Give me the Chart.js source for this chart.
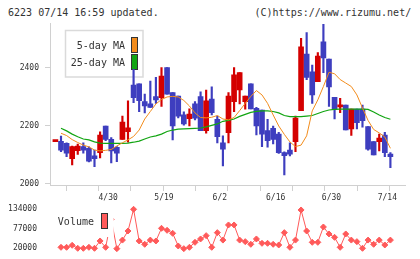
<!DOCTYPE html>
<html>
<head>
<meta charset="utf-8">
<script src="https://cdn.jsdelivr.net/npm/chart.js@4.4.1/dist/chart.umd.min.js"></script>
<style>
body{margin:0;background:#fff;width:420px;height:259px;overflow:hidden;position:relative;font-family:'DejaVu Sans Mono',monospace;}
#top{position:absolute;left:0;top:0;width:420px;height:205px}
#vol{position:absolute;left:0;top:195px;width:420px;height:64px}
.hd{position:absolute;top:7px;font-size:11px;line-height:12px;color:#333;white-space:nowrap}
</style>
</head>
<body>
<div class="hd" style="left:8px;transform:scaleX(0.91);transform-origin:left">6223 07/14 16:59 updated.</div>
<div class="hd" style="right:9px;transform:scaleX(0.91);transform-origin:right">(C)https://www.rizumu.net/</div>
<div id="top"><canvas id="priceChart"></canvas></div>
<div id="vol"><canvas id="volChart"></canvas></div>
<script>
// daily candles, first one is the partial doji at the left edge
const opens  = [2146,2147,2140,2087,2115,2129,2123,2097,2108,2200,2154,2126,2154,2180,2341,2345,2284,2276,2301,2298,2401,
                2315,2303,2238,2225,2276,2301,2184,2293,2223,2142,2177,2284,2324,2284,2345,2261,2255,2184,2192,2172,
                2108,2117,2146,2253,2448,2387,2353,2490,2431,2299,2266,2272,2190,2258,2258,2198,2146,2146,2169,2103];
const highs  = [2148,2165,2142,2131,2138,2142,2128,2117,2180,2200,2160,2129,2234,2287,2395,2345,2310,2355,2368,2401,2401,
                2315,2303,2249,2259,2284,2318,2324,2335,2234,2166,2315,2401,2384,2303,2345,2264,2255,2223,2200,2178,
                2111,2142,2234,2502,2522,2410,2453,2550,2431,2299,2295,2272,2258,2258,2272,2198,2146,2172,2178,2108];
const lows   = [2146,2111,2094,2066,2102,2106,2076,2060,2090,2149,2073,2077,2154,2144,2280,2249,2245,2264,2278,2267,2310,
                2152,2228,2203,2200,2221,2184,2175,2238,2142,2062,2142,2249,2276,2258,2259,2169,2129,2127,2138,2105,
                2031,2097,2111,2253,2360,2278,2353,2384,2267,2224,2246,2186,2167,2190,2196,2117,2100,2114,2094,2056];
const closes = [2148,2117,2106,2129,2131,2117,2079,2087,2169,2154,2114,2106,2213,2194,2298,2287,2269,2264,2290,2372,2310,
                2200,2234,2207,2241,2227,2184,2287,2246,2163,2120,2303,2376,2384,2303,2259,2200,2172,2149,2154,2108,
                2098,2103,2227,2473,2367,2307,2441,2435,2335,2258,2270,2186,2258,2211,2218,2120,2100,2158,2108,2094];
const ma5    = [null,2175,2167,2153,2143,2134,2128,2117,2114,2116,2119,2131,2142,2152,2164,2186,2224,2250,2276,2291,2300,
                2302,2300,2288,2269,2245,2229,2228,2230,2236,2224,2221,2229,2253,2278,2302,2322,2307,2278,2238,2200,
                2171,2145,2129,2134,2166,2252,2290,2336,2385,2380,2360,2348,2336,2307,2262,2219,2188,2176,2162,2123];
const ma25   = [null,2192,2183,2172,2163,2155,2152,2145,2141,2140,2140,2140,2140,2141,2144,2148,2155,2162,2166,2172,2181,
                2186,2189,2190,2191,2192,2193,2197,2202,2207,2216,2219,2224,2233,2240,2247,2250,2252,2252,2250,2245,
                2236,2232,2232,2232,2234,2236,2243,2250,2255,2257,2258,2258,2258,2258,2258,2257,2248,2238,2229,2223];
const volumes = [null,22900,22900,28800,20000,20000,22900,20000,41400,22900,105000,19000,44000,70600,134000,41400,31700,44000,41400,78400,72600,
                 63800,26800,19000,22900,37500,47300,57000,22900,65800,44000,88200,88200,44000,39500,31700,47300,34600,34600,31700,29700,
                 65800,22900,44000,132000,70600,37500,37500,82300,61900,52000,22900,61900,44000,39500,20000,44000,31700,44000,29700,44000];
const dateLabels = ['4/30','5/19','6/2','6/16','6/30','7/14'];
const dateIdx = [10,20,30,40,50,60];
const priceTicks = [2000,2200,2400];
const volTicks = [20000,77000,134000];

const RED = '#d40000', BLUE = '#3e3ebf', ORANGE = '#f28c1c', GREEN = '#12a512', VOLC = '#ff5a5a';
const AXIS = '#d0d0d0', TXT = '#333';
const xMin = -0.97, xMax = 62.74;

Chart.defaults.font.family = "'DejaVu Sans Mono', monospace";
Chart.defaults.animation = false;

const up = i => closes[i] >= opens[i];
const candleColor = c => up(c.dataIndex) ? RED : BLUE;

function label(c, t, x, y) {
    c.save();
    c.translate(x, y);
    c.scale(0.91, 1);
    c.font = "11px 'DejaVu Sans Mono'";
    c.fillStyle = TXT;
    c.textAlign = 'right';
    c.textBaseline = 'middle';
    c.fillText(t, 0, 0);
    c.restore();
}
function swatch(c, x, y, color) {
    c.fillStyle = color;
    c.fillRect(x, y, 6, 15);
    c.strokeStyle = '#333';
    c.lineWidth = 1;
    c.strokeRect(x, y, 6, 15);
}

const maLegend = {
    id: 'maLegend',
    beforeDatasetsDraw(chart) {
        const c = chart.ctx;
        c.save();
        c.fillStyle = '#fff';
        c.fillRect(65.5, 30.5, 77.5, 46.5);
        c.strokeStyle = '#dadada';
        c.lineWidth = 1.5;
        c.strokeRect(65.5, 30.5, 77.5, 46.5);
        label(c, '5-day MA', 125, 46);
        label(c, '25-day MA', 125, 63);
        swatch(c, 131.5, 37.5, ORANGE);
        swatch(c, 131.5, 54.5, GREEN);
        c.restore();
    }
};

const volLegend = {
    id: 'volLegend',
    afterDatasetsDraw(chart) {
        const c = chart.ctx;
        c.save();
        c.fillStyle = '#fff';
        c.fillRect(53, 9, 60.7, 33);
        label(c, 'Volume', 94, 26.7);
        swatch(c, 101.5, 18.5, VOLC);
        c.restore();
    }
};

new Chart(document.getElementById('priceChart'), {
    type: 'bar',
    data: {
        datasets: [
            {
                type: 'line', label: '5-day MA', order: 0,
                data: ma5.map((v, k) => ({x: k, y: v})),
                borderColor: ORANGE, borderWidth: 1, pointRadius: 0, tension: 0
            },
            {
                type: 'line', label: '25-day MA', order: 0,
                data: ma25.map((v, k) => ({x: k, y: v})),
                borderColor: GREEN, borderWidth: 1.2, pointRadius: 0, tension: 0
            },
            {
                label: 'body', order: 1, grouped: false,
                data: opens.map((o, k) => ({x: k, y: [o, closes[k]]})),
                backgroundColor: candleColor, barThickness: 5, minBarLength: 2
            },
            {
                label: 'wick', order: 2, grouped: false,
                data: lows.map((l, k) => ({x: k, y: [l, highs[k]]})),
                backgroundColor: candleColor, barThickness: 1.5
            }
        ]
    },
    options: {
        responsive: true,
        maintainAspectRatio: false,
        layout: {padding: {top: 23, right: 14.3, left: 0, bottom: 0}},
        plugins: {legend: {display: false}, tooltip: {enabled: false}},
        scales: {
            x: {
                type: 'linear', min: xMin, max: xMax, offset: false,
                afterBuildTicks: s => {
                    const t = [];
                    for (let j = 0; j <= 11; j++) t.push({value: xMin + j * (xMax - xMin) / 11});
                    dateIdx.forEach((k, n) => t.push({value: k - 0.55, lbl: dateLabels[n]}));
                    s.ticks = t;
                },
                afterFit: s => { s.height = 20; },
                grid: {
                    drawOnChartArea: false, tickLength: 6,
                    color: c => (c.tick && c.tick.lbl) ? 'rgba(0,0,0,0)' : AXIS
                },
                border: {color: AXIS},
                ticks: {
                    autoSkip: false, maxRotation: 0, padding: 2, color: TXT, font: {size: 8},
                    callback: (v, i, t) => t[i].lbl || ''
                }
            },
            y: {
                min: 1996.5, max: 2555,
                afterBuildTicks: s => { s.ticks = priceTicks.map(v => ({value: v})); },
                afterFit: s => { s.width = 50; },
                grid: {drawOnChartArea: false, tickLength: 5, color: AXIS},
                border: {color: AXIS},
                ticks: {padding: 6, color: TXT, font: {size: 8}, callback: v => String(v)}
            }
        }
    },
    plugins: [maLegend]
});

new Chart(document.getElementById('volChart'), {
    type: 'line',
    data: {
        datasets: [{
            label: 'Volume',
            data: volumes.map((v, k) => ({x: k, y: v})),
            borderColor: VOLC, backgroundColor: VOLC, borderWidth: 1,
            pointStyle: 'rectRot', pointRadius: 3, pointBorderWidth: 1,
            tension: 0, clip: false
        }]
    },
    options: {
        responsive: true,
        maintainAspectRatio: false,
        layout: {padding: {top: 14.3, right: 14.3, left: 0, bottom: 10.7}},
        plugins: {legend: {display: false}, tooltip: {enabled: false}},
        scales: {
            x: {type: 'linear', min: xMin, max: xMax, display: false},
            y: {
                min: 20000, max: 134000,
                afterBuildTicks: s => { s.ticks = volTicks.map(v => ({value: v})); },
                afterFit: s => { s.width = 50; },
                grid: {display: false},
                border: {display: false},
                ticks: {padding: 5, color: TXT, font: {size: 8}, callback: v => String(v)}
            }
        }
    },
    plugins: [volLegend]
});
</script>
</body>
</html>
